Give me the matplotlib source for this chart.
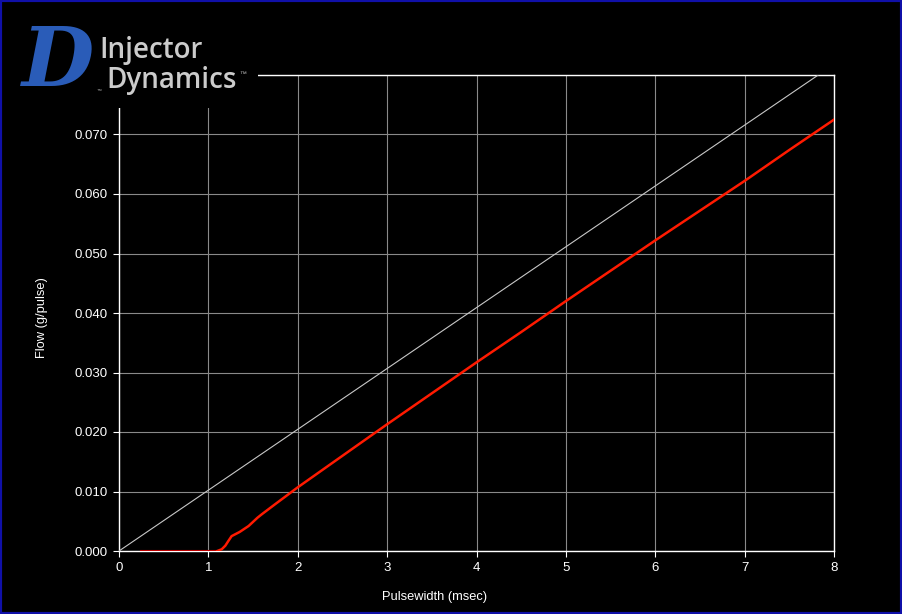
import matplotlib
matplotlib.use('Agg')
import matplotlib.pyplot as plt
from matplotlib.patches import Rectangle

# flow curve (pulsewidth msec, flow g/pulse)
dead_pw = [0.25, 0.60, 1.10]
dead_flow = [0.0, 0.0, 0.0]
pw = [1.10, 1.15, 1.19, 1.22, 1.26, 1.35, 1.45, 1.55, 1.60, 1.75, 2.0, 2.5, 3.0,
      3.5, 4.0, 4.5, 5.0, 5.5, 6.0, 6.5, 7.0, 7.5, 8.0]
flow = [0.0, 0.0003, 0.0009, 0.0016, 0.0025, 0.0032, 0.0042, 0.0056, 0.0062,
        0.0079, 0.0107, 0.0160, 0.0213, 0.0265, 0.0317, 0.0368, 0.0420, 0.0471,
        0.0522, 0.0572, 0.0622, 0.0674, 0.0725]
# reference line
ref_pw = [0.0, 8.0]
ref_flow = [0.0, 0.0818]

xticks = [0, 1, 2, 3, 4, 5, 6, 7, 8]
yticks = [0.0, 0.01, 0.02, 0.03, 0.04, 0.05, 0.06, 0.07, 0.08]
ylabels = ['0.000', '0.010', '0.020', '0.030', '0.040', '0.050', '0.060', '0.070', '']

plt.rcParams['font.family'] = ['Liberation Sans', 'DejaVu Sans']

W, H = 902, 614
fig = plt.figure(figsize=(W / 100, H / 100), dpi=100, facecolor='black')
ax = fig.add_axes([119 / W, 1 - 551 / H, 715 / W, 476 / H], facecolor='black')

ax.plot(ref_pw, ref_flow, color='#c8c8c8', lw=0.8, zorder=3)
ax.plot(dead_pw, dead_flow, color='#c00000', lw=1.5, zorder=4)
ax.plot(pw, flow, color='#ff1a00', lw=1.8, zorder=4)

ax.set_xlim(0, 8)
ax.set_ylim(0, 0.08)
ax.set_xticks(xticks)
ax.set_yticks(yticks)
ax.set_yticklabels(ylabels)
ax.grid(True, color='#8a8a8a', lw=0.8)
ax.set_axisbelow(True)
for s in ax.spines.values():
    s.set_color('white')
    s.set_linewidth(1.0)
ax.tick_params(colors='white', labelsize=9.5, length=4, width=0.8, pad=4)

ax.set_xlabel('Pulsewidth (msec)', color='white', fontsize=9.3)
ax.xaxis.set_label_coords(0.442, -0.083)
ax.set_ylabel('Flow (g/pulse)', color='white', fontsize=9.3)
ax.yaxis.set_label_coords(-0.099, 0.49)

# logo block covering the top-left corner
fig.patches.append(Rectangle((3 / W, 1 - 108 / H), 255 / W, 105 / H,
                             transform=fig.transFigure, facecolor='black',
                             edgecolor='none', zorder=2))
fig.text(22 / W, 1 - 86 / H, 'D', color='#2a5cb8', fontsize=60,
         family='DejaVu Serif', weight='bold', style='italic', zorder=3)
fig.text(97 / W, 1 - 91 / H, '™', color='#bbbbbb', fontsize=3.5, zorder=3)
fig.text(99 / W, 1 - 58 / H, 'Injector', color='#cccccc', fontsize=20,
         family='Open Sans', weight='semibold', zorder=3)
fig.text(106 / W, 1 - 88 / H, 'Dynamics', color='#cccccc', fontsize=20,
         family='Open Sans', weight='semibold', zorder=3)
fig.text(239 / W, 1 - 76 / H, '™', color='#bbbbbb', fontsize=5, zorder=3)

# blue frame
fig.patches.append(Rectangle((0, 0), 1, 1, transform=fig.transFigure,
                             facecolor='none', edgecolor='#1010a8', lw=3, zorder=5))

fig.savefig('out.png', dpi=100, facecolor='black')
